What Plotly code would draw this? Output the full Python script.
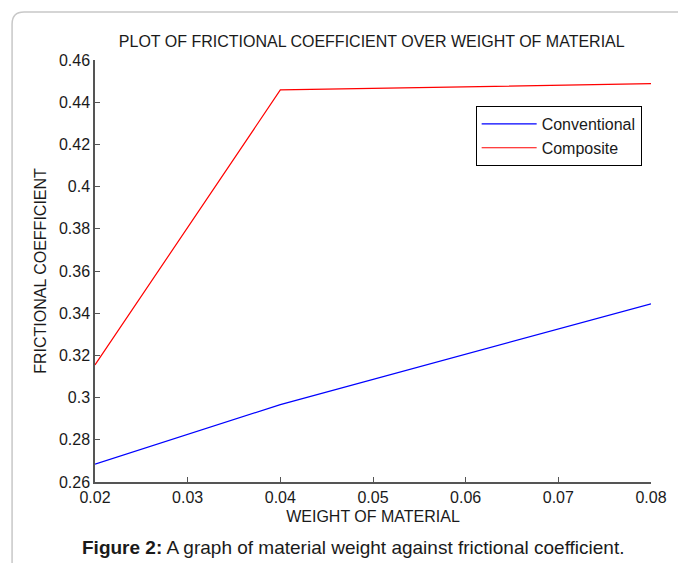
import plotly.graph_objects as go

weights = [0.02, 0.04, 0.08]
conventional = [0.2685, 0.2967, 0.3444]
composite = [0.3155, 0.4458, 0.4488]

x_tick_vals = [0.02, 0.03, 0.04, 0.05, 0.06, 0.07, 0.08]
x_tick_text = ["0.02", "0.03", "0.04", "0.05", "0.06", "0.07", "0.08"]
y_tick_vals = [0.26, 0.28, 0.30, 0.32, 0.34, 0.36, 0.38, 0.40, 0.42, 0.44, 0.46]
y_tick_text = ["0.26", "0.28", "0.3", "0.32", "0.34", "0.36", "0.38", "0.4", "0.42", "0.44", "0.46"]

W, H = 678, 563
L, R, T, B = 95, 651.5, 60, 481.7
pw, ph = R - L, B - T

def px(x):
    return (x - L) / pw

def py(y):
    return (B - y) / ph

FONT = "Liberation Sans, Arial, sans-serif"
TXT = "#1a1a1a"

fig = go.Figure()
fig.add_trace(go.Scatter(x=weights, y=conventional, mode="lines", name="Conventional",
                         line=dict(color="#0000ff", width=1.2)))
fig.add_trace(go.Scatter(x=weights, y=composite, mode="lines", name="Composite",
                         line=dict(color="#ff0000", width=1.2)))

frame_path = (f"M {px(12)},{py(575)} L {px(12)},{py(24)} "
              f"Q {px(12)},{py(12)} {px(24)},{py(12)} L {px(690)},{py(12)}")

fig.update_layout(
    width=W, height=H,
    margin=dict(l=L, r=W - R, t=T, b=H - B, pad=0),
    paper_bgcolor="white", plot_bgcolor="white",
    font=dict(family=FONT, size=16, color=TXT),
    title=dict(text="PLOT OF FRICTIONAL COEFFICIENT OVER WEIGHT OF MATERIAL",
               x=px(372), xref="paper", xanchor="center",
               y=1 - 41 / H, yref="container", yanchor="middle",
               font=dict(size=16, family=FONT, color=TXT)),
    xaxis=dict(range=[0.02, 0.08], tickvals=x_tick_vals, ticktext=x_tick_text,
               showgrid=False, zeroline=False, showline=True, linecolor="#555555",
               linewidth=1.5, ticks="inside", ticklen=5, tickcolor="#555555",
               tickfont=dict(size=16), title=dict(text="WEIGHT OF MATERIAL",
               font=dict(size=16), standoff=6)),
    yaxis=dict(range=[0.26, 0.46], tickvals=y_tick_vals, ticktext=y_tick_text,
               showgrid=False, zeroline=False, showline=True, linecolor="#555555",
               linewidth=1.5, ticks="inside", ticklen=5, tickcolor="#555555",
               tickfont=dict(size=16), title=dict(text="FRICTIONAL COEFFICIENT",
               font=dict(size=16), standoff=8)),
    legend=dict(x=px(476), y=py(106), xanchor="left", yanchor="top",
                bordercolor="black", borderwidth=1, bgcolor="white",
                font=dict(size=16), tracegroupgap=0, itemwidth=55),
    showlegend=True,
    shapes=[dict(type="path", path=frame_path, xref="paper", yref="paper",
                 line=dict(color="#c8c8c8", width=1.5))],
    annotations=[dict(text="<b>Figure 2:</b> A graph of material weight against frictional coefficient.",
                      x=px(353), y=py(547), xref="paper", yref="paper",
                      xanchor="center", yanchor="middle", showarrow=False,
                      font=dict(size=19, family=FONT, color=TXT))],
)

fig.write_html("out.html", config={"displayModeBar": False},
               post_script="document.body.style.margin='0';document.body.style.overflow='hidden';")
